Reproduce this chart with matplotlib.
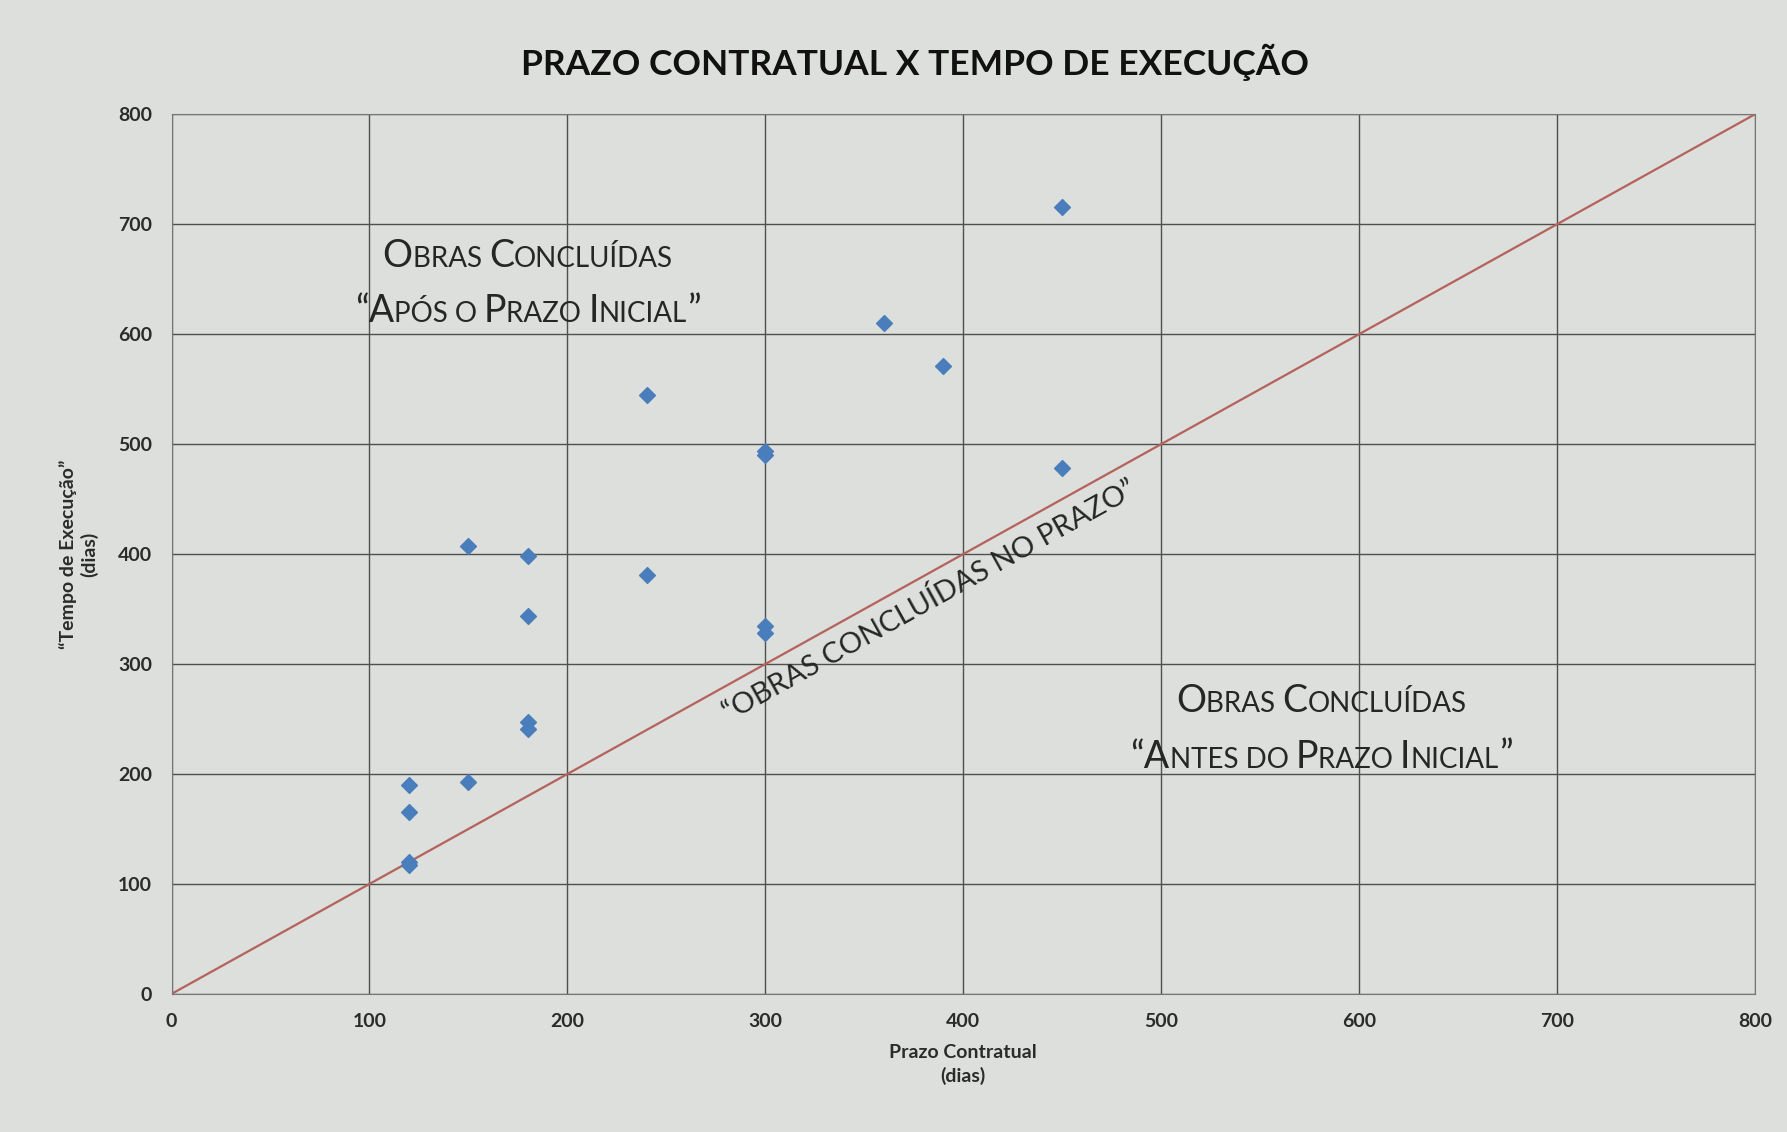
import matplotlib
matplotlib.use("Agg")
import matplotlib.pyplot as plt
from matplotlib.offsetbox import TextArea, HPacker, VPacker, AnnotationBbox

# data (dias)
prazo = [120, 120, 120, 120, 150, 150, 180, 180, 180, 180,
         240, 240, 300, 300, 300, 300, 360, 390, 450, 450]
tempo = [190, 165, 120, 117, 407, 193, 398, 344, 247, 241,
         545, 381, 494, 490, 335, 328, 610, 571, 716, 478]
ticks = [0, 100, 200, 300, 400, 500, 600, 700, 800]
linha_prazo = [0, 800]

BG = "#dcdfdb"
TXT = "#2b2b2b"
NOTE = "#262626"


def small_caps(text, big, small, font="Lato"):
    """Builds a small caps box: lowercase letters become smaller capitals"""
    runs = []
    for ch in text:
        is_small = ch.islower() or ch == " "
        if runs and runs[-1][1] == is_small:
            runs[-1][0] += ch
        else:
            runs.append([ch, is_small])
    parts = [TextArea(s.upper(), textprops=dict(fontsize=small if sm else big,
                                                 family=font, weight="normal", color=NOTE))
             for s, sm in runs]
    return HPacker(children=parts, align="baseline", pad=0, sep=0)


def note(ax, lines, x, y):
    box = VPacker(children=[small_caps(l, 27, 20) for l in lines],
                  align="center", pad=0, sep=14)
    ax.add_artist(AnnotationBbox(box, (x, y), frameon=False, box_alignment=(0.5, 0.5)))


fig = plt.figure(figsize=(17.87, 11.32), dpi=100, facecolor=BG)
ax = fig.add_axes([0.096, 0.122, 0.886, 0.777], facecolor=BG)

ax.plot(linha_prazo, linha_prazo, color="#b5615c", lw=1.6, zorder=2)
ax.scatter(prazo, tempo, marker="D", s=65, color="#4a7dbb", zorder=3)

ax.set_xlim(0, 800)
ax.set_ylim(0, 800)
ax.set_xticks(ticks)
ax.set_yticks(ticks)
ax.grid(True, color="#505050", lw=1.0)
ax.set_axisbelow(True)
for s in ax.spines.values():
    s.set_color("#777777")
ax.tick_params(length=0, pad=14, labelsize=14, labelcolor=TXT)
for lb in ax.get_xticklabels() + ax.get_yticklabels():
    lb.set_family("Lato")
    lb.set_weight("bold")

ax.set_xlabel("Prazo Contratual\n(dias)", fontsize=14, family="Lato",
              weight="bold", color=TXT, labelpad=10, linespacing=1.4)
ax.set_ylabel("\u201cTempo de Execução\u201d\n(dias)", fontsize=14, family="Lato",
              weight="bold", color=TXT, labelpad=14, linespacing=1.2)

fig.text(0.512, 0.945, "PRAZO CONTRATUAL X TEMPO DE EXECUÇÃO", ha="center", va="center",
         fontsize=25.5, family="Lato", weight="bold", color="#111111")

note(ax, ["Obras Concluídas", "\u201cApós o Prazo Inicial\u201d"], 180, 646)
note(ax, ["Obras Concluídas", "\u201cAntes do Prazo Inicial\u201d"], 581, 241)

ax.text(383, 357, "\u201cOBRAS CONCLUÍDAS NO PRAZO\u201d", rotation=45,
        transform_rotates_text=True, rotation_mode="anchor",
        ha="center", va="center", fontsize=21, family="Lato",
        weight="normal", color=NOTE)

fig.savefig("out.png", dpi=100, facecolor=BG)
